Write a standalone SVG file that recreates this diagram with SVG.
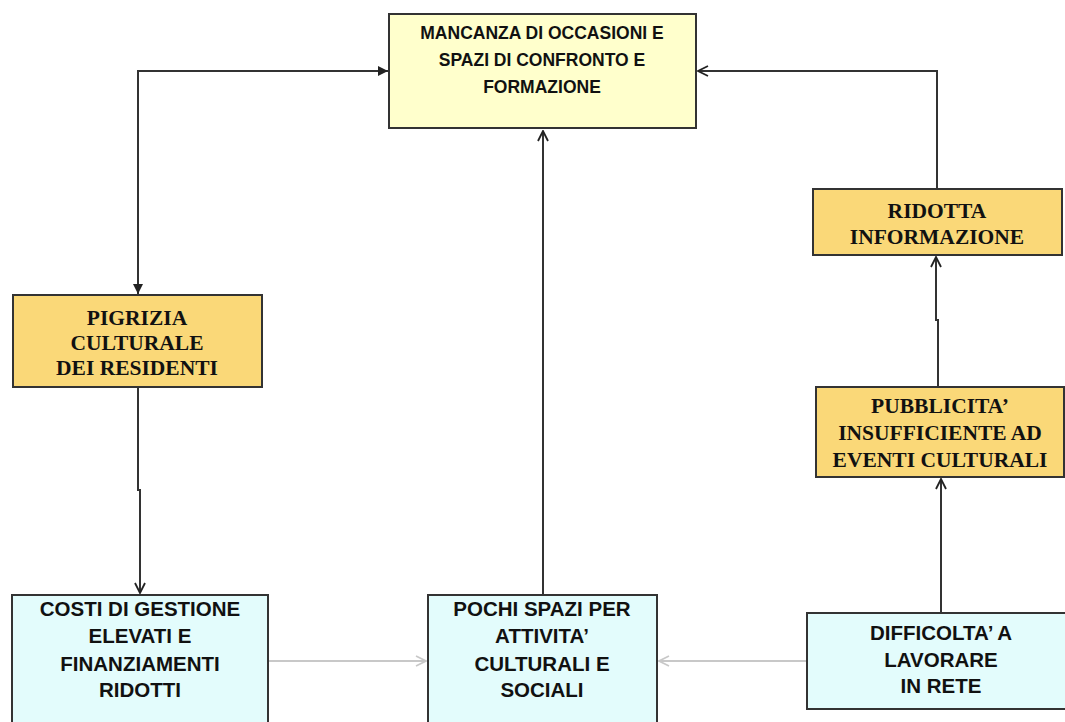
<svg xmlns="http://www.w3.org/2000/svg" width="1065" height="722" viewBox="0 0 1065 722">
<style>
.box{stroke:#333;stroke-width:2}
.top{fill:#FFFFCC}
.yel{fill:#FAD878}
.blu{fill:#E3FCFC}
.sans{font-family:"Liberation Sans",Arial,sans-serif;font-weight:bold;fill:#111;text-anchor:middle}
.b{font-size:20.5px}
.t{font-size:17.5px}
.serif{font-family:"Liberation Serif","Times New Roman",serif;font-weight:bold;fill:#111;text-anchor:middle;font-size:21.5px}
.ln{fill:none;stroke:#333;stroke-width:2}
.gl{fill:none;stroke:#C8C8C8;stroke-width:2}
</style>
<defs>
<marker id="fa" viewBox="0 0 10 10" refX="10" refY="5" markerWidth="11" markerHeight="10" orient="auto" markerUnits="userSpaceOnUse">
<path d="M0,0 L10,5 L0,10 z" fill="#222"/>
</marker>
<marker id="oa" viewBox="0 0 12 12" refX="11" refY="6" markerWidth="12" markerHeight="12" orient="auto" markerUnits="userSpaceOnUse">
<path d="M1,1 L11,6 L1,11" fill="none" stroke="#222" stroke-width="1.8"/>
</marker>
<marker id="ga" viewBox="0 0 12 12" refX="11" refY="6" markerWidth="12" markerHeight="12" orient="auto" markerUnits="userSpaceOnUse">
<path d="M1,1 L11,6 L1,11" fill="none" stroke="#C8C8C8" stroke-width="1.6"/>
</marker>
</defs>
<rect width="1065" height="722" fill="#fff"/>
<g id="connectors">
<path class="ln" d="M138,290 L138,71 L388,71" marker-end="url(#fa)"/>
<path class="ln" d="M138,76 L138,294" marker-end="url(#fa)"/>
<path class="ln" d="M937,189 L937,71 L698,71" marker-end="url(#oa)"/>
<path class="ln" d="M938,387 L938,320 L936,320 L936,257" marker-end="url(#oa)"/>
<path class="ln" d="M941,613 L941,479" marker-end="url(#oa)"/>
<path class="ln" d="M138,388 L138,490 L140,490 L140,593" marker-end="url(#oa)"/>
<path class="ln" d="M543,595 L543,131" marker-end="url(#oa)"/>
<path class="gl" d="M268,661 L426,661" marker-end="url(#ga)"/>
<path class="gl" d="M807,661 L659,661" marker-end="url(#ga)"/>
</g>
<g id="mancanza">
<rect class="box top" x="389" y="14" width="307" height="114"/>
<text class="sans t" x="542" y="39">MANCANZA DI OCCASIONI E</text>
<text class="sans t" x="542" y="66">SPAZI DI CONFRONTO  E</text>
<text class="sans t" x="542" y="93">FORMAZIONE</text>
</g>
<g id="pigrizia">
<rect class="box yel" x="13" y="295" width="249" height="92"/>
<text class="serif" x="137" y="325">PIGRIZIA</text>
<text class="serif" x="137" y="350">CULTURALE</text>
<text class="serif" x="137" y="375">DEI RESIDENTI</text>
</g>
<g id="ridotta">
<rect class="box yel" x="813" y="189" width="249" height="66"/>
<text class="serif" x="937" y="218">RIDOTTA</text>
<text class="serif" x="937" y="244">INFORMAZIONE</text>
</g>
<g id="pubblicita">
<rect class="box yel" x="816" y="387" width="248" height="90"/>
<text class="serif" x="940" y="413">PUBBLICITA’</text>
<text class="serif" x="940" y="440">INSUFFICIENTE AD</text>
<text class="serif" x="940" y="467">EVENTI CULTURALI</text>
</g>
<g id="costi">
<rect class="box blu" x="12" y="595" width="256" height="140"/>
<text class="sans b" x="140" y="616">COSTI DI GESTIONE</text>
<text class="sans b" x="140" y="643">ELEVATI E</text>
<text class="sans b" x="140" y="671">FINANZIAMENTI</text>
<text class="sans b" x="140" y="697">RIDOTTI</text>
</g>
<g id="pochi">
<rect class="box blu" x="428" y="595" width="229" height="140"/>
<text class="sans b" x="542" y="616">POCHI SPAZI PER</text>
<text class="sans b" x="542" y="643">ATTIVITA’</text>
<text class="sans b" x="542" y="671">CULTURALI E</text>
<text class="sans b" x="542" y="697">SOCIALI</text>
</g>
<g id="difficolta">
<rect class="box blu" x="807" y="613" width="270" height="96"/>
<text class="sans b" x="941" y="640">DIFFICOLTA’ A</text>
<text class="sans b" x="941" y="667">LAVORARE</text>
<text class="sans b" x="941" y="693">IN RETE</text>
</g>
</svg>
